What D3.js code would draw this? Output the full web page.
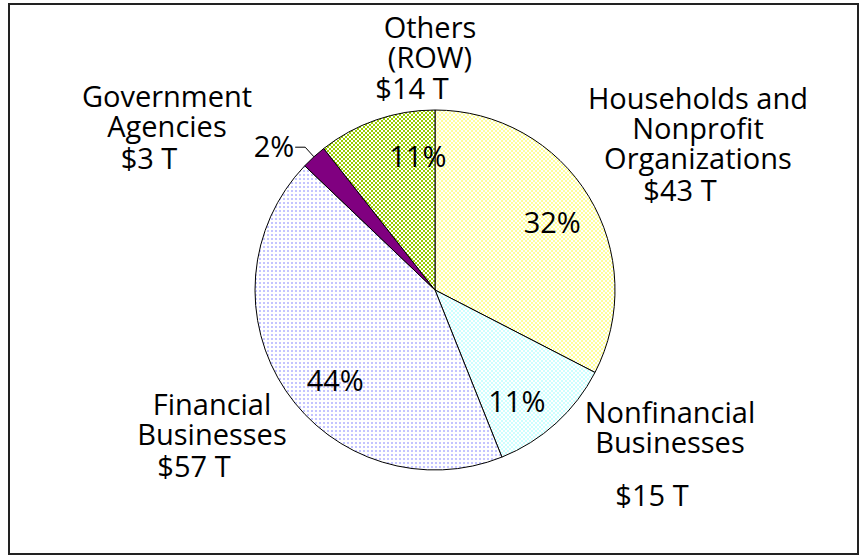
<!DOCTYPE html>
<html>
<head>
<meta charset="utf-8">
<script src="https://cdn.jsdelivr.net/npm/d3@7"></script>
<style>
  body { margin: 0; background: #fff; }
  text { font-family: "Open Sans", sans-serif; font-size: 29px; fill: #000; }
</style>
</head>
<body>
<div class="canvas"></div>
<script>
// data (trillions of dollars)
const categories = ['Households and\nNonprofit\nOrganizations', 'Nonfinancial\nBusinesses',
  'Financial\nBusinesses', 'Government\nAgencies', 'Others\n(ROW)'];
const values = [43, 15, 57, 3, 14];
const valueLabels = ['$43 T', '$15 T', '$57 T', '$3 T', '$14 T'];
const pctLabels = ['32%', '11%', '44%', '2%', '11%'];

const W = 865, H = 556;
const cx = 435, cy = 290, R = 180;

// where the text blocks sit (center x, first line y, gap before $ line)
const nameLayout = [
  { x: 698, y: 99, gap: 32 },
  { x: 670, y: 413, gap: 53 },
  { x: 212, y: 405, gap: 32 },
  { x: 167, y: 97, gap: 32 },
  { x: 430, y: 28, gap: 31 }
];
// nudges of the percent labels off the arc centroid (2% sits outside)
const pctNudge = [[2, 3], [-9, 12], [12, 15], null, [27, -5]];

const svg = d3.select('.canvas')
  .append('svg')
    .attr('width', W)
    .attr('height', H);

const defs = svg.append('defs');

function checker(id, color) {
  const p = defs.append('pattern')
    .attr('id', id)
    .attr('patternUnits', 'userSpaceOnUse')
    .attr('width', 4).attr('height', 4);
  p.append('rect').attr('width', 4).attr('height', 4).attr('fill', '#fff');
  p.append('rect').attr('width', 2).attr('height', 2).attr('fill', color);
  p.append('rect').attr('x', 2).attr('y', 2).attr('width', 2).attr('height', 2).attr('fill', color);
}
checker('pYellow', '#ffff99');
checker('pCyan', '#ccffff');
checker('pGreen', '#99cc00');

const dots = defs.append('pattern')
  .attr('id', 'pLav')
  .attr('patternUnits', 'userSpaceOnUse')
  .attr('width', 4).attr('height', 4);
dots.append('rect').attr('width', 4).attr('height', 4).attr('fill', '#fff');
dots.append('rect').attr('width', 2).attr('height', 2).attr('fill', '#c4c4ff');

const fills = ['url(#pYellow)', 'url(#pCyan)', 'url(#pLav)', '#800080', 'url(#pGreen)'];

// frame
svg.append('rect')
  .attr('x', 9).attr('y', 4)
  .attr('width', 849).attr('height', 550)
  .attr('fill', 'none')
  .attr('stroke', '#222')
  .attr('stroke-width', 2);

const pie = d3.pie().sort(null).value(d => d);
const arcs = pie(values);

const arc = d3.arc().innerRadius(0).outerRadius(R);
const labelArc = d3.arc().innerRadius(135).outerRadius(135);

const g = svg.append('g').attr('transform', `translate(${cx},${cy})`);

g.selectAll('path')
  .data(arcs)
  .enter()
  .append('path')
    .attr('d', arc)
    .attr('fill', (d, i) => fills[i])
    .attr('stroke', '#000')
    .attr('stroke-width', 1);

// percent labels inside
arcs.forEach((d, i) => {
  if (!pctNudge[i]) return;
  const c = labelArc.centroid(d);
  g.append('text')
    .attr('x', c[0] + pctNudge[i][0])
    .attr('y', c[1] + pctNudge[i][1] + 10)
    .attr('text-anchor', 'middle')
    .text(pctLabels[i]);
});

// 2% label with leader line
const small = arcs[3];
const mid = (small.startAngle + small.endAngle) / 2;
const pt = r => [r * Math.sin(mid), -r * Math.cos(mid)];
const p0 = pt(R), p1 = pt(R + 13);
g.append('path')
  .attr('d', d3.line()([[p1[0] - 10, p1[1]], p1, p0]))
  .attr('fill', 'none')
  .attr('stroke', '#000')
  .attr('stroke-width', 1);
g.append('text')
  .attr('x', p1[0] - 11)
  .attr('y', p1[1] + 10)
  .attr('text-anchor', 'end')
  .text(pctLabels[3]);

// category names and dollar amounts
categories.forEach((c, i) => {
  const L = nameLayout[i];
  const lines = c.split('\n');
  const t = svg.append('text').attr('text-anchor', 'middle');
  lines.forEach((s, j) => {
    t.append('tspan').attr('x', L.x).attr('y', L.y + 10 + j * 30).text(s);
  });
  t.append('tspan')
    .attr('x', L.x - 18)
    .attr('y', L.y + 10 + (lines.length - 1) * 30 + L.gap)
    .text(valueLabels[i]);
});
</script>
</body>
</html>
